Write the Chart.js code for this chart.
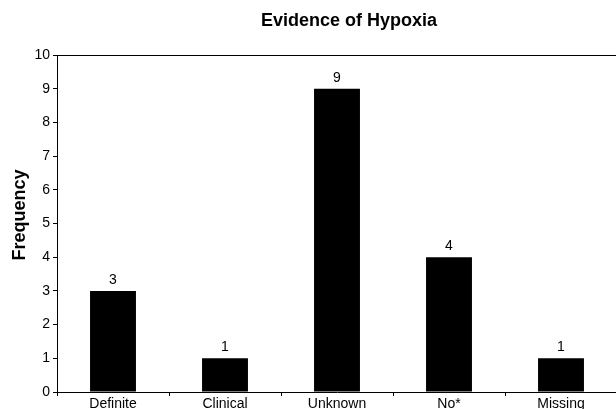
<!DOCTYPE html>
<html>
<head>
<meta charset="utf-8">
<script src="https://cdn.jsdelivr.net/npm/chart.js@4.4.1/dist/chart.umd.min.js"></script>
<style>
  html, body { margin: 0; padding: 0; background: #fff; overflow: hidden; }
  #wrap { width: 617px; height: 409px; position: relative; }
</style>
</head>
<body>
<div id="wrap"><canvas id="hypoxiaChart"></canvas></div>
<script>
// Evidence of Hypoxia - frequency per category
const categories = ['Definite', 'Clinical', 'Unknown', 'No*', 'Missing'];
const frequencies = [3, 1, 9, 4, 1];
const yTicks = [0, 1, 2, 3, 4, 5, 6, 7, 8, 9, 10];

const FONT = "'Liberation Sans', Arial, sans-serif";

// value labels above each bar
const barLabels = {
  id: 'barLabels',
  afterDatasetsDraw(chart) {
    const ctx = chart.ctx;
    const meta = chart.getDatasetMeta(0);
    ctx.save();
    ctx.font = '14px ' + FONT;
    ctx.fillStyle = '#000';
    ctx.textAlign = 'center';
    ctx.textBaseline = 'alphabetic';
    meta.data.forEach((bar, i) => {
      ctx.fillText(String(frequencies[i]), bar.x, bar.y - 7);
    });
    ctx.restore();
  }
};

// top border line, chart title and axis title
const frame = {
  id: 'frame',
  afterDraw(chart) {
    const { ctx, chartArea } = chart;
    ctx.save();
    ctx.strokeStyle = '#000';
    ctx.lineWidth = 1;
    ctx.beginPath();
    ctx.moveTo(chartArea.left, chartArea.top + 0.5);
    ctx.lineTo(chartArea.right, chartArea.top + 0.5);
    ctx.stroke();

    ctx.fillStyle = '#000';
    ctx.font = 'bold 18px ' + FONT;
    ctx.textAlign = 'center';
    ctx.textBaseline = 'alphabetic';
    ctx.fillText('Evidence of Hypoxia', 349, 26);

    ctx.translate(25, 215);
    ctx.rotate(-Math.PI / 2);
    ctx.fillText('Frequency', 0, 0);
    ctx.restore();
  }
};

new Chart(document.getElementById('hypoxiaChart'), {
  type: 'bar',
  data: {
    labels: categories,
    datasets: [{
      label: 'Frequency',
      data: frequencies,
      backgroundColor: '#000',
      borderWidth: 0,
      categoryPercentage: 1,
      barPercentage: 0.41
    }]
  },
  options: {
    responsive: true,
    maintainAspectRatio: false,
    animation: false,
    layout: { padding: { top: 55, right: 0, bottom: 0, left: 0 } },
    plugins: {
      legend: { display: false },
      tooltip: { enabled: false },
      title: { display: false }
    },
    scales: {
      x: {
        offset: true,
        grid: {
          offset: true,
          drawOnChartArea: false,
          tickLength: 4,
          color: '#000'
        },
        border: { color: '#000', width: 1 },
        ticks: {
          color: '#000',
          font: { family: FONT, size: 14 },
          padding: 0,
          maxRotation: 0
        },
        afterFit: s => { s.height = 17; }
      },
      y: {
        min: 0,
        max: 10,
        afterBuildTicks: s => { s.ticks = yTicks.map(v => ({ value: v })); },
        grid: {
          drawOnChartArea: false,
          tickLength: 4,
          color: '#000'
        },
        border: { color: '#000', width: 1 },
        ticks: {
          color: '#000',
          font: { family: FONT, size: 14 },
          padding: 3
        },
        afterFit: s => { s.width = 57; }
      }
    }
  },
  plugins: [barLabels, frame]
});
</script>
</body>
</html>
